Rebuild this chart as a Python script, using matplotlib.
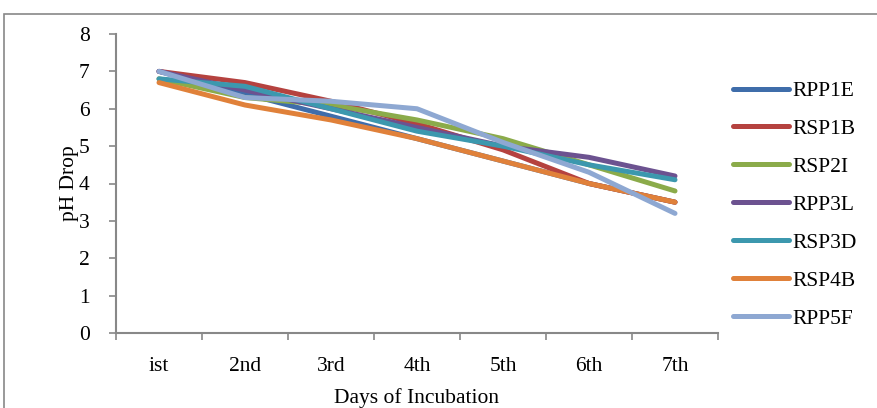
import matplotlib
matplotlib.use("Agg")
import matplotlib.pyplot as plt
from matplotlib.patches import Rectangle
import numpy as np

days = ["ist", "2nd", "3rd", "4th", "5th", "6th", "7th"]
series_names = ["RPP1E", "RSP1B", "RSP2I", "RPP3L", "RSP3D", "RSP4B", "RPP5F"]
RPP1E = [7.0, 6.4, 5.8, 5.2, 4.6, 4.0, 3.5]
RSP1B = [7.0, 6.7, 6.2, 5.6, 4.9, 4.0, 3.5]
RSP2I = [6.8, 6.3, 6.1, 5.7, 5.2, 4.5, 3.8]
RPP3L = [7.0, 6.5, 6.0, 5.5, 5.0, 4.7, 4.2]
RSP3D = [6.8, 6.6, 6.0, 5.4, 5.0, 4.5, 4.1]
RSP4B = [6.7, 6.1, 5.7, 5.2, 4.6, 4.0, 3.5]
RPP5F = [7.0, 6.3, 6.2, 6.0, 5.1, 4.3, 3.2]
values = [RPP1E, RSP1B, RSP2I, RPP3L, RSP3D, RSP4B, RPP5F]
colors = ["#3F6DAA", "#B5423F", "#8BAB4A", "#6C5290", "#3C98AE", "#E0813A", "#8EA8D2"]

plt.rcParams['font.family'] = ['Liberation Serif', 'DejaVu Serif']
FS = 15.5

fig = plt.figure(figsize=(8.77, 4.08), dpi=100)
ax = fig.add_axes([116/877, 1-333/408, (718-116)/877, (333-34)/408])

x = np.arange(1, len(days)+1)
for name, vals, c in zip(series_names, values, colors):
    ax.plot(x, vals, color=c, lw=3.6, solid_capstyle='round', solid_joinstyle='round', label=name)

ax.set_xlim(0.5, len(days)+0.5)
ax.set_ylim(0, 8)
ax.set_yticks(range(0, 9))
ax.set_xticks(x)
ax.set_xticklabels(days)
ax.set_xticks(np.arange(0.5, len(days)+1, 1), minor=True)
ax.tick_params(axis='x', which='major', length=0, pad=17, labelsize=FS)
ax.tick_params(axis='x', which='minor', length=5, width=1.2, color='#888888', direction='out')
ax.tick_params(axis='y', length=5, width=1.2, color='#888888', labelsize=FS, pad=14)
for s in ['top', 'right']:
    ax.spines[s].set_visible(False)
for s in ['left', 'bottom']:
    ax.spines[s].set_color('#888888')
    ax.spines[s].set_linewidth(1.5)

ax.set_xlabel("Days of Incubation", fontsize=FS, labelpad=9)
ax.set_ylabel("pH Drop", fontsize=FS, labelpad=0)

leg = ax.legend(loc='upper left', bbox_to_anchor=(733/877, 1-81/408), bbox_transform=fig.transFigure,
                frameon=False, fontsize=FS, handlelength=2.6, handletextpad=0.15,
                labelspacing=0.83, borderaxespad=0, borderpad=0)

fig.patches.append(Rectangle((4/877, -0.1), 1.2, 1-14/408+0.1, transform=fig.transFigure,
                             fill=False, edgecolor='#888888', lw=1.2, figure=fig))

fig.savefig("out.png", dpi=100)
